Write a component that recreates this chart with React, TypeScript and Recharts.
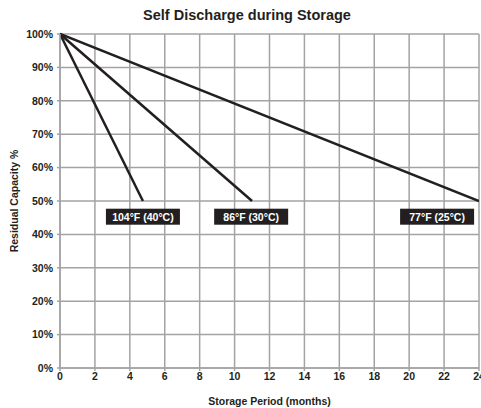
import { LineChart, Line, XAxis, YAxis, CartesianGrid, ReferenceDot, Label } from "recharts";

// months in storage -> residual capacity (%)
const hot40 = [
  { m: 0, v: 100 },
  { m: 4.75, v: 50 },
];
const warm30 = [
  { m: 0, v: 100 },
  { m: 11, v: 50 },
];
const room25 = [
  { m: 0, v: 100 },
  { m: 24, v: 50 },
];

const labelText = ["104°F (40°C)", "86°F (30°C)", "77°F (25°C)"];
const labelMonth = [4.75, 10.95, 21.6];
const labelLevel = 45.3;

const xTicks = [0, 2, 4, 6, 8, 10, 12, 14, 16, 18, 20, 22, 24];
const yTicks = [0, 10, 20, 30, 40, 50, 60, 70, 80, 90, 100];

const FONT = "'Liberation Sans', Arial, Helvetica, sans-serif";
const GRID = "#a3a3a3";

function TempTag(props: any) {
  const { cx, cy, text } = props;
  const w = 74;
  const h = 16;
  return (
    <g>
      <rect x={cx - w / 2} y={cy - h / 2} width={w} height={h} fill="#231f20" />
      <text
        x={cx}
        y={cy + 4}
        textAnchor="middle"
        fill="#fff"
        fontFamily={FONT}
        fontWeight="bold"
        fontSize={10.5}
      >
        {text}
      </text>
    </g>
  );
}

export default function App() {
  return (
    <div style={{ position: "absolute", left: 0, top: 0, width: 481, height: 408, background: "#fff" }}>
      <svg width={481} height={30} style={{ position: "absolute", left: 0, top: 0 }}>
        <text
          x={247}
          y={20}
          textAnchor="middle"
          fontFamily={FONT}
          fontWeight="bold"
          fontSize={14.5}
          fill="#231f20"
        >
          Self Discharge during Storage
        </text>
      </svg>
      <LineChart
        width={481}
        height={408}
        margin={{ top: 34, right: 2, bottom: 0, left: 0 }}
        style={{ position: "absolute", left: 0, top: 0 }}
      >
        <CartesianGrid stroke={GRID} strokeWidth={1.5} />
        <XAxis
          type="number"
          dataKey="m"
          domain={[0, 24]}
          ticks={xTicks}
          interval={0}
          height={40}
          stroke={GRID}
          strokeWidth={1.5}
          tickSize={3}
          tick={{ fill: "#231f20", fontSize: 10.5, fontFamily: FONT, fontWeight: "bold" }}
          allowDataOverflow
        >
          <Label
            value="Storage Period (months)"
            position="insideBottom"
            offset={3}
            style={{ fill: "#231f20", fontSize: 10.5, fontFamily: FONT, fontWeight: "bold" }}
          />
        </XAxis>
        <YAxis
          type="number"
          domain={[0, 100]}
          ticks={yTicks}
          interval={0}
          width={60}
          stroke={GRID}
          strokeWidth={1.5}
          tickSize={3}
          tickMargin={4}
          tickFormatter={(v: number) => `${v}%`}
          tick={{ fill: "#231f20", fontSize: 10.5, fontFamily: FONT, fontWeight: "bold" }}
        >
          <Label
            value="Residual Capacity %"
            angle={-90}
            position="insideLeft"
            offset={14}
            style={{ fill: "#231f20", fontSize: 10.5, fontFamily: FONT, fontWeight: "bold", textAnchor: "middle" }}
          />
        </YAxis>
        <Line data={hot40} dataKey="v" stroke="#231f20" strokeWidth={2.5} dot={false} isAnimationActive={false} />
        <Line data={warm30} dataKey="v" stroke="#231f20" strokeWidth={2.5} dot={false} isAnimationActive={false} />
        <Line data={room25} dataKey="v" stroke="#231f20" strokeWidth={2.5} dot={false} isAnimationActive={false} />
        {labelText.map((t, i) => (
          <ReferenceDot
            key={t}
            x={labelMonth[i]}
            y={labelLevel}
            ifOverflow="visible"
            shape={(p: any) => <TempTag {...p} text={t} />}
          />
        ))}
      </LineChart>
    </div>
  );
}
